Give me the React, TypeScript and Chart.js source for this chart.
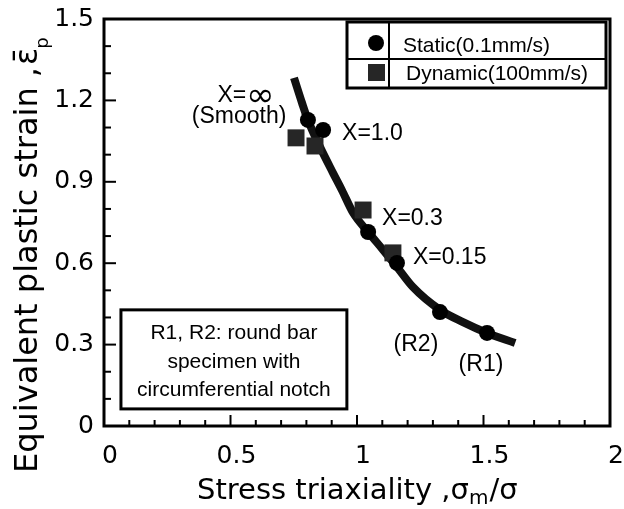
import React, { useEffect, useRef } from 'react';
import { Chart, registerables } from 'chart.js';

Chart.register(...registerables);

// ---- data ----
const curveX = [0.751, 0.783, 0.806, 0.854, 0.905, 0.94, 0.985, 1.044, 1.103, 1.158, 1.221, 1.328, 1.419, 1.514, 1.625];
const curveY = [1.283, 1.19, 1.128, 1.028, 0.933, 0.87, 0.785, 0.715, 0.649, 0.586, 0.512, 0.428, 0.383, 0.343, 0.306];
const staticX = [0.806, 0.866, 1.044, 1.158, 1.328, 1.514];
const staticY = [1.128, 1.091, 0.715, 0.601, 0.42, 0.343];
const dynamicX = [0.759, 0.834, 1.024, 1.142];
const dynamicY = [1.062, 1.032, 0.796, 0.638];
const xTickValues = [0, 0.5, 1, 1.5, 2];
const xTickLabels = ['0', '0.5', '1', '1.5', '2'];
const yTickValues = [0, 0.3, 0.6, 0.9, 1.2, 1.5];
const yTickLabels = ['0', '0.3', '0.6', '0.9', '1.2', '1.5'];
const seriesNames = ['Static(0.1mm/s)', 'Dynamic(100mm/s)'];
const noteLines = ['R1, R2: round bar', 'specimen with', 'circumferential notch'];

const AXIS_FONT = '"DejaVu Sans", sans-serif';
const TEXT_FONT = '"Liberation Sans", Arial, sans-serif';

const overlay = {
  id: 'overlay',
  afterDraw(chart: any) {
    const { ctx, chartArea: a } = chart;
    const x = chart.scales.x;
    const y = chart.scales.y;
    const X = (v: number) => x.getPixelForValue(v);
    const Y = (v: number) => y.getPixelForValue(v);
    ctx.save();
    ctx.strokeStyle = '#000';
    ctx.fillStyle = '#000';
    // frame
    ctx.lineWidth = 3;
    ctx.strokeRect(a.left, a.top, a.right - a.left, a.bottom - a.top);
    // inward ticks
    ctx.lineWidth = 2;
    for (let i = 0; i <= 20; i++) {
      const px = X(i / 10);
      const len = i % 5 === 0 ? 11 : 6;
      ctx.beginPath();
      ctx.moveTo(px, a.bottom);
      ctx.lineTo(px, a.bottom - len);
      ctx.stroke();
    }
    for (let i = 0; i <= 15; i++) {
      const py = Y(i / 10);
      const len = i % 3 === 0 ? 12 : 7;
      ctx.beginPath();
      ctx.moveTo(a.left, py);
      ctx.lineTo(a.left + len, py);
      ctx.stroke();
    }

    // x axis title
    ctx.textAlign = 'left';
    ctx.textBaseline = 'alphabetic';
    let tx = 197;
    const ty = 499;
    ctx.font = `29px ${AXIS_FONT}`;
    const part1 = 'Stress triaxiality ,\u03c3';
    ctx.fillText(part1, tx, ty);
    tx += ctx.measureText(part1).width;
    ctx.font = `20px ${AXIS_FONT}`;
    ctx.fillText('m', tx, ty + 5);
    tx += ctx.measureText('m').width + 1;
    ctx.font = `29px ${AXIS_FONT}`;
    ctx.fillText('/\u03c3', tx, ty);

    // y axis title
    ctx.save();
    ctx.translate(37, 473);
    ctx.rotate(-Math.PI / 2);
    ctx.font = `32px ${AXIS_FONT}`;
    const ytxt = 'Equivalent plastic strain ,';
    ctx.fillText(ytxt, 0, 0);
    let yx = ctx.measureText(ytxt).width + 2;
    ctx.fillText('\u03b5\u0304', yx, 0);
    yx += ctx.measureText('\u03b5').width - 1;
    ctx.font = `18px ${AXIS_FONT}`;
    ctx.fillText('p', yx, 11);
    ctx.restore();

    // annotations
    ctx.font = `23px ${TEXT_FONT}`;
    ctx.textBaseline = 'middle';
    ctx.textAlign = 'left';
    // X=inf
    const infY = Y(1.216);
    const wXeq = ctx.measureText('X=').width;
    ctx.font = `34px ${AXIS_FONT}`;
    const wInf = ctx.measureText('\u221e').width;
    const infStart = X(0.561) - (wXeq + wInf) / 2;
    ctx.font = `23px ${TEXT_FONT}`;
    ctx.fillText('X=', infStart, infY);
    ctx.font = `34px ${AXIS_FONT}`;
    ctx.fillText('\u221e', infStart + wXeq, infY + 1);
    ctx.font = `23px ${TEXT_FONT}`;
    ctx.textAlign = 'center';
    ctx.fillText('(Smooth)', X(0.534), Y(1.139));
    ctx.textAlign = 'left';
    ctx.fillText('X=1.0', X(0.941), Y(1.076));
    ctx.fillText('X=0.3', X(1.099), Y(0.763));
    ctx.fillText('X=0.15', X(1.221), Y(0.619));
    ctx.textAlign = 'center';
    ctx.fillText('(R2)', X(1.233), Y(0.299));
    ctx.fillText('(R1)', X(1.49), Y(0.225));

    // note box
    ctx.lineWidth = 3;
    const bl = X(0.067), br = X(0.96), bt = Y(0.428), bb = Y(0.063);
    ctx.strokeRect(bl, bt, br - bl, bb - bt);
    ctx.font = `21px ${TEXT_FONT}`;
    const lineYs = [0.343, 0.236, 0.133];
    noteLines.forEach((t, i) => ctx.fillText(t, (bl + br) / 2, Y(lineYs[i])));

    // legend table
    const lr = a.right - 4, lt = a.top + 3;
    const lw = 259, lh = 66;
    const ll = lr - lw;
    ctx.lineWidth = 3;
    ctx.strokeRect(ll, lt, lw, lh);
    ctx.lineWidth = 2;
    ctx.beginPath();
    ctx.moveTo(ll, lt + 37); ctx.lineTo(lr, lt + 37);
    ctx.moveTo(ll + 42, lt); ctx.lineTo(ll + 42, lt + lh);
    ctx.stroke();
    ctx.fillStyle = '#000';
    ctx.beginPath();
    ctx.arc(ll + 29, lt + 21, 8, 0, Math.PI * 2);
    ctx.fill();
    ctx.fillStyle = '#262626';
    ctx.fillRect(ll + 21, lt + 42, 17, 17);
    ctx.fillStyle = '#000';
    ctx.font = `21px ${TEXT_FONT}`;
    ctx.textAlign = 'left';
    ctx.textBaseline = 'alphabetic';
    ctx.fillText(seriesNames[0], ll + 56, lt + 30);
    ctx.fillText(seriesNames[1], ll + 59, lt + 58);
    ctx.restore();
  },
};

const zeroPad = (s: any) => {
  s.paddingTop = 0;
  s.paddingBottom = 0;
  s.paddingLeft = 0;
  s.paddingRight = 0;
};

export default function App() {
  const ref = useRef<HTMLCanvasElement>(null);
  useEffect(() => {
    const chart = new Chart(ref.current as HTMLCanvasElement, {
      type: 'scatter',
      data: {
        datasets: [
          {
            label: seriesNames[0],
            data: staticX.map((v, i) => ({ x: v, y: staticY[i] })),
            pointStyle: 'circle',
            pointRadius: 8,
            backgroundColor: '#000',
            borderWidth: 0,
            order: 1,
          },
          {
            label: seriesNames[1],
            data: dynamicX.map((v, i) => ({ x: v, y: dynamicY[i] })),
            pointStyle: 'rect',
            pointRadius: 12,
            backgroundColor: '#262626',
            borderWidth: 0,
            order: 2,
          },
          {
            type: 'line',
            label: 'fit',
            data: curveX.map((v, i) => ({ x: v, y: curveY[i] })),
            borderColor: '#111',
            borderWidth: 8,
            pointRadius: 0,
            cubicInterpolationMode: 'monotone',
            showLine: true,
            fill: false,
            order: 3,
          } as any,
        ],
      },
      options: {
        animation: false,
        responsive: false,
        devicePixelRatio: 1,
        layout: { padding: { top: 19, right: 14, left: 0, bottom: 0 } },
        plugins: { legend: { display: false }, tooltip: { enabled: false } },
        scales: {
          x: {
            type: 'linear',
            min: 0,
            max: 2,
            afterBuildTicks: (s: any) => { s.ticks = xTickValues.map((v) => ({ value: v })); },
            afterFit: (s: any) => { s.height = 83; zeroPad(s); },
            grid: { display: false, drawTicks: false },
            border: { display: false },
            ticks: {
              color: '#000',
              font: { family: AXIS_FONT, size: 25 },
              padding: 15,
              labelOffset: 6,
              maxRotation: 0,
              callback: (v: any) => xTickLabels[xTickValues.indexOf(Number(v))] ?? '',
            },
          },
          y: {
            type: 'linear',
            min: 0,
            max: 1.5,
            afterBuildTicks: (s: any) => { s.ticks = yTickValues.map((v) => ({ value: v })); },
            afterFit: (s: any) => { s.width = 104; zeroPad(s); },
            grid: { display: false, drawTicks: false },
            border: { display: false },
            ticks: {
              color: '#000',
              font: { family: AXIS_FONT, size: 25 },
              padding: 10,
              callback: (v: any) => yTickLabels[yTickValues.indexOf(Number(v))] ?? '',
            },
          },
        },
      },
      plugins: [overlay],
    } as any);
    return () => chart.destroy();
  }, []);
  return (
    <div style={{ position: 'absolute', left: 0, top: 0, width: 624, height: 509, background: '#fff' }}>
      <canvas ref={ref} width={624} height={509} style={{ display: 'block', width: 624, height: 509 }} />
    </div>
  );
}
